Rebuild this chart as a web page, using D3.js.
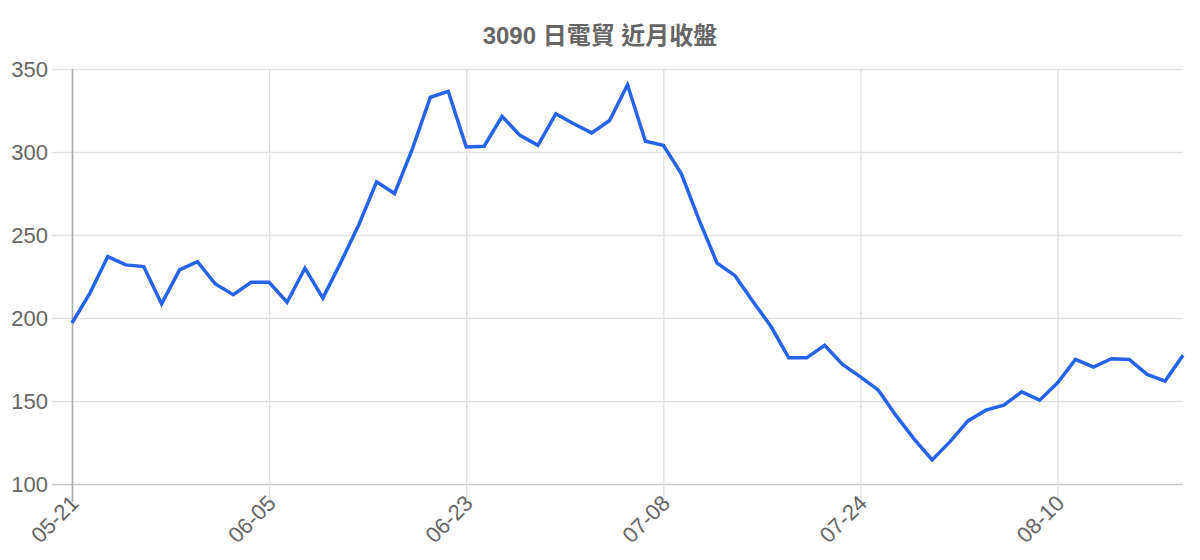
<!DOCTYPE html>
<html>
<head>
<meta charset="utf-8">
<script src="https://cdn.jsdelivr.net/npm/d3@7.9.0/dist/d3.min.js"></script>
<style>
  html, body { margin: 0; padding: 0; background: #fff; }
  svg { display: block; font-family: "Liberation Sans", Arial, "Noto Sans CJK TC", sans-serif; }
</style>
</head>
<body>
<div id="chart"></div>
<script>
// -------- data --------
const title = '3090 日電貿 近月收盤';

const dates = [
  '05-21', '05-22', '05-23', '05-24', '05-27', '05-28', '05-29', '05-30', '05-31', '06-03', '06-04',
  '06-05', '06-06', '06-07', '06-10', '06-11', '06-12', '06-13', '06-14', '06-17', '06-18', '06-19',
  '06-23', '06-24', '06-25', '06-26', '06-27', '06-28', '07-01', '07-02', '07-03', '07-04', '07-05',
  '07-08', '07-09', '07-10', '07-11', '07-12', '07-15', '07-16', '07-17', '07-18', '07-19', '07-22',
  '07-24', '07-25', '07-26', '07-29', '07-30', '07-31', '08-01', '08-02', '08-05', '08-06', '08-07',
  '08-10', '08-11', '08-12', '08-13', '08-14', '08-17', '08-18', '08-19'
];

const closes = [
  197, 215, 237, 232, 231, 208.5, 229, 234, 220.5, 214, 221.5,
  221.5, 209.5, 230, 212, 233.5, 256, 282, 275, 302, 333, 336.5,
  303, 303.5, 321.5, 310, 304, 323, 317, 311.5, 319, 340.5, 306.5,
  304, 287, 259, 233, 225.5, 210, 195, 176, 176, 183.5, 172,
  164.5, 156.5, 141, 127, 114.5, 125.5, 138, 144.5, 147.5, 155.5, 150.5,
  161, 175, 170.5, 175.5, 175, 166, 162, 177.5
];

const yTicks = [100, 150, 200, 250, 300, 350];
const xTickEvery = 11;

// -------- chart --------
const width = 1200;
const height = 560;
const margin = { top: 69, right: 17, bottom: 76, left: 72 };

const svg = d3.select('#chart')
  .append('svg')
  .attr('width', width)
  .attr('height', height);

const x = d3.scalePoint()
  .domain(dates)
  .range([margin.left, width - margin.right]);

const y = d3.scaleLinear()
  .domain([100, 350])
  .range([height - margin.bottom, margin.top]);

// title
svg.append('text')
  .attr('x', 600)
  .attr('y', 44)
  .attr('text-anchor', 'middle')
  .attr('fill', '#666')
  .style('font-size', '24px')
  .style('font-weight', 'bold')
  .text(title);

// horizontal grid + y labels
const yAxis = svg.append('g')
  .attr('transform', `translate(${width - margin.right},0)`)
  .call(d3.axisLeft(y)
    .tickValues(yTicks)
    .tickSize(width - margin.right - margin.left + 20)
    .tickPadding(4));
yAxis.select('.domain').remove();
yAxis.selectAll('line').attr('stroke', (d) => d === 100 ? '#c8c8c8' : '#e2e2e2').attr('stroke-width', 1.3);
yAxis.selectAll('text').attr('fill', '#666').style('font-size', '22px').attr('dy', '0.36em');

// vertical grid + x labels
const xVals = dates.filter((d, i) => i % xTickEvery === 0);
const xAxis = svg.append('g')
  .attr('transform', `translate(0,${margin.top})`)
  .call(d3.axisBottom(x)
    .tickValues(xVals)
    .tickSize(height - margin.bottom - margin.top + 18)
    .tickPadding(0));
xAxis.select('.domain').remove();
xAxis.selectAll('line').attr('stroke', (d, i) => i === 0 ? '#aaa' : '#e0e0e0').attr('stroke-width', (d, i) => i === 0 ? 1.6 : 1.3);
xAxis.selectAll('text')
  .attr('fill', '#666')
  .style('font-size', '22px')
  .attr('text-anchor', 'end')
  .attr('dy', '0.1em')
  .attr('transform', 'translate(6,' + (height - margin.bottom - margin.top + 19) + ') rotate(-45)')
  .attr('y', 0)
  .attr('x', 0);

// line
const line = d3.line()
  .x((d, i) => x(dates[i]))
  .y(d => y(d));

svg.append('path')
  .datum(closes)
  .attr('fill', 'none')
  .attr('stroke', '#2563eb')
  .attr('stroke-width', 3.5)
  .attr('stroke-linejoin', 'miter')
  .attr('d', line);
</script>
</body>
</html>
